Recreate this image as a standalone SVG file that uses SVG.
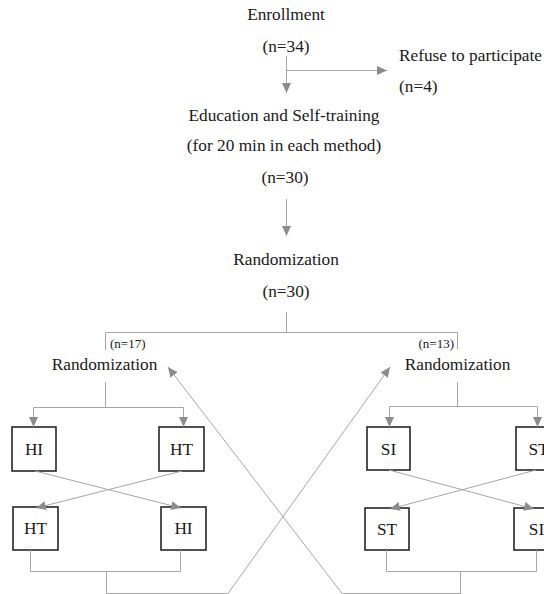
<svg xmlns="http://www.w3.org/2000/svg" width="544" height="594" viewBox="0 0 544 594">
<style>
text{font-family:"Liberation Serif","Times New Roman",serif;font-size:17.3px;fill:#1a1a1a}
.m{text-anchor:middle}
.s{font-size:13px}
.ln{fill:none;stroke:#a6a6a6;stroke-width:1}
.ar{marker-end:url(#ah)}
.bx{fill:#fff;stroke:#262626;stroke-width:1.6}
</style>
<defs>
<marker id="ah" markerUnits="userSpaceOnUse" markerWidth="10" markerHeight="10" viewBox="0 0 10 10" refX="10" refY="5" orient="auto">
<path d="M0,0.5 L10,5 L0,9.5 Z" fill="#8c8c8c"/>
</marker>
</defs>
<rect width="544" height="594" fill="#fff"/>
<g id="enrollment"><text class="m" x="286" y="20">Enrollment</text><text class="m" x="286" y="52">(n=34)</text></g>
<g id="refuse"><text x="399" y="61">Refuse to participate</text><text x="399" y="92">(n=4)</text></g>
<g id="education"><text class="m" x="284" y="121">Education and Self-training</text><text class="m" x="284" y="151">(for 20 min in each method)</text><text class="m" x="285" y="183">(n=30)</text></g>
<g id="randomization"><text class="m" x="286" y="265">Randomization</text><text class="m" x="286" y="297">(n=30)</text></g>
<g id="rand-left"><text class="s" x="110" y="348">(n=17)</text><text class="m" x="104.5" y="370">Randomization</text></g>
<g id="rand-right"><text class="s" x="454" y="348" text-anchor="end">(n=13)</text><text class="m" x="457.5" y="370">Randomization</text></g>
<g id="l-hi1"><rect class="bx" x="12" y="427" width="44" height="44"/><text class="m" x="34" y="455">HI</text></g>
<g id="l-ht1"><rect class="bx" x="159" y="427" width="45" height="44"/><text class="m" x="181.5" y="455">HT</text></g>
<g id="l-ht2"><rect class="bx" x="13" y="507" width="45" height="43"/><text class="m" x="35.5" y="534">HT</text></g>
<g id="l-hi2"><rect class="bx" x="161" y="507" width="45" height="43"/><text class="m" x="183.5" y="534">HI</text></g>
<g id="r-si1"><rect class="bx" x="367" y="427" width="43" height="43"/><text class="m" x="388.5" y="455">SI</text></g>
<g id="r-st1"><rect class="bx" x="516" y="427" width="45" height="43"/><text class="m" x="538.5" y="455">ST</text></g>
<g id="r-st2"><rect class="bx" x="365" y="508" width="44" height="42"/><text class="m" x="387" y="535">ST</text></g>
<g id="r-si2"><rect class="bx" x="514" y="508" width="45" height="42"/><text class="m" x="536.5" y="535">SI</text></g>
<g id="connectors">
<path class="ln ar" d="M286.5,56 V93"/>
<path class="ln ar" d="M286.5,70.5 H387"/>
<path class="ln ar" d="M286.5,199 V236"/>
<path class="ln" d="M286.5,312 V332.5 M105.5,332.5 H457.5 M105.5,332.5 V350 M457.5,332.5 V349"/>
<path class="ln" d="M105.5,382 V407.5 M33.5,407.5 H183.5"/>
<path class="ln ar" d="M33.5,407.5 V427"/>
<path class="ln ar" d="M183.5,407.5 V427"/>
<path class="ln" d="M457.5,382 V406.5 M389.5,406.5 H537.5"/>
<path class="ln ar" d="M389.5,406.5 V427"/>
<path class="ln ar" d="M537.5,406.5 V427"/>
<path class="ln ar" d="M35,471 L181,508"/>
<path class="ln ar" d="M182,471 L36,508"/>
<path class="ln ar" d="M389,470 L534,509"/>
<path class="ln ar" d="M536,470 L390,509"/>
<path class="ln" d="M30.5,550 V571.5 H180.5 V550 M106.5,571.5 V593.5 H228"/>
<path class="ln" d="M386.5,550 V571.5 H536.5 V550 M460.5,571.5 V593.5 H342"/>
<path class="ln ar" d="M228,593.5 L390,367"/>
<path class="ln ar" d="M342,593.5 L168,367"/>
</g>
</svg>
